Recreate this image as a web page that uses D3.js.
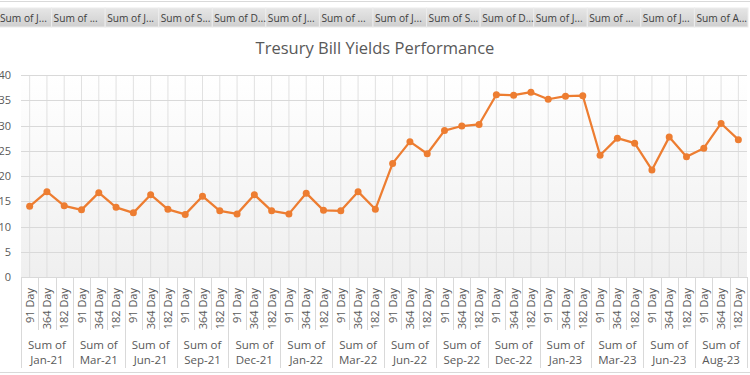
<!DOCTYPE html>
<html>
<head>
<meta charset="utf-8">
<script src="https://cdn.jsdelivr.net/npm/d3@7"></script>
<style>
  body { margin: 0; background: #fff; }
  svg { display: block; font-family: "Open Sans", "Liberation Sans", sans-serif; }
</style>
</head>
<body>
<svg id="chart" width="750" height="375"></svg>
<script>
// data
const groups = ["Jan-21", "Mar-21", "Jun-21", "Sep-21", "Dec-21", "Jan-22", "Mar-22",
                "Jun-22", "Sep-22", "Dec-22", "Jan-23", "Mar-23", "Jun-23", "Aug-23"];
const tenors = ["91 Day", "364 Day", "182 Day"];
const fieldButtons = ["Sum of J...", "Sum of ...", "Sum of J...", "Sum of S...", "Sum of D...",
                      "Sum of J...", "Sum of ...", "Sum of J...", "Sum of S...", "Sum of D...",
                      "Sum of J...", "Sum of ...", "Sum of J...", "Sum of A..."];
const yields = [
  14.0, 16.9, 14.1,   13.3, 16.7, 13.8,   12.7, 16.3, 13.4,   12.4, 16.0, 13.1,
  12.5, 16.3, 13.1,   12.5, 16.6, 13.2,   13.1, 16.9, 13.4,   22.5, 26.8, 24.4,
  29.0, 29.9, 30.2,   36.1, 36.0, 36.6,   35.2, 35.8, 35.9,   24.1, 27.5, 26.5,
  21.2, 27.7, 23.8,   25.5, 30.4, 27.2
];
const yTicks = [0, 5, 10, 15, 20, 25, 30, 35, 40];
const title = "Tresury Bill Yields Performance";

const svg = d3.select("#chart");
const W = 750, H = 375;
const grey = "#595959", gridCol = "#d9d9d9";

// categories: one per (group, tenor)
const cats = [];
groups.forEach((g, gi) => tenors.forEach((t, ti) => cats.push({ g, gi, t, i: gi * 3 + ti })));
cats.forEach((c, i) => c.value = yields[i]);

let x = d3.scaleBand().domain(d3.range(cats.length)).range([21, 747]).padding(0);
let y = d3.scaleLinear().domain([0, 40]).range([277, 75]);
let bw = x.bandwidth();
let cx = i => x(i) + bw / 2;

// chart border lines
svg.append("line").attr("x1", 0).attr("x2", W).attr("y1", 1.5).attr("y2", 1.5)
  .attr("stroke", gridCol).attr("stroke-width", 1);
svg.append("line").attr("x1", 0).attr("x2", W).attr("y1", 372.5).attr("y2", 372.5)
  .attr("stroke", gridCol).attr("stroke-width", 1);

//#region field buttons bar
let defs = svg.append("defs");
let bg = defs.append("linearGradient").attr("id", "btnGrad").attr("x1", 0).attr("x2", 0).attr("y1", 0).attr("y2", 1);
bg.append("stop").attr("offset", "0%").attr("stop-color", "#e6e6e6");
bg.append("stop").attr("offset", "100%").attr("stop-color", "#cfcfcf");
let pg = defs.append("linearGradient").attr("id", "plotGrad").attr("x1", 0).attr("x2", 0).attr("y1", 0).attr("y2", 1);
pg.append("stop").attr("offset", "0%").attr("stop-color", "#ffffff");
pg.append("stop").attr("offset", "100%").attr("stop-color", "#efefef");

let btnW = W / fieldButtons.length;
let gBtn = svg.append("g");
gBtn.selectAll("rect").data(fieldButtons).join("rect")
  .attr("x", (d, i) => i * btnW - 2)
  .attr("y", 8).attr("width", btnW).attr("height", 19)
  .attr("fill", "url(#btnGrad)")
  .attr("stroke", "#ececec").attr("stroke-width", 1);
gBtn.selectAll("text").data(fieldButtons).join("text")
  .attr("x", (d, i) => i * btnW)
  .attr("y", 21.5)
  .attr("font-size", 10.2)
  .attr("fill", "#404040")
  .text(d => d);
//#endregion

// title
svg.append("text").attr("x", 375).attr("y", 54).attr("text-anchor", "middle")
  .attr("font-size", 16.5).attr("fill", grey).text(title);

// plot background
svg.append("rect").attr("x", x.range()[0]).attr("y", y(40))
  .attr("width", x.range()[1] - x.range()[0]).attr("height", y(0) - y(40))
  .attr("fill", "url(#plotGrad)");

//#region grid
let gGrid = svg.append("g");
gGrid.selectAll(".h").data(yTicks).join("line").attr("class", "h")
  .attr("x1", x.range()[0]).attr("x2", x.range()[1])
  .attr("y1", d => Math.round(y(d)) + 0.5).attr("y2", d => Math.round(y(d)) + 0.5)
  .attr("stroke", gridCol).attr("stroke-width", 1);
gGrid.selectAll(".v").data(cats).join("line").attr("class", "v")
  .attr("x1", d => cx(d.i)).attr("x2", d => cx(d.i))
  .attr("y1", y(40)).attr("y2", y(0))
  .attr("stroke", gridCol).attr("stroke-width", 0.8);
//#endregion

// y axis labels
svg.append("g").selectAll("text").data(yTicks).join("text")
  .attr("x", 11).attr("y", d => y(d) + 4)
  .attr("text-anchor", "end").attr("font-size", 11).attr("fill", grey)
  .text(d => d);

//#region x axis: categories + groups
let gX = svg.append("g");
let bounds = d3.range(cats.length + 1);
gX.selectAll("line.b").data(bounds).join("line").attr("class", "b")
  .attr("x1", d => Math.round(x.range()[0] + d * bw) + 0.5)
  .attr("x2", d => Math.round(x.range()[0] + d * bw) + 0.5)
  .attr("y1", y(0))
  .attr("y2", d => d % 3 === 0 ? 368 : 330)
  .attr("stroke", gridCol).attr("stroke-width", 1);
gX.selectAll("text.cat").data(cats).join("text").attr("class", "cat")
  .attr("transform", d => `translate(${cx(d.i) + 4},288) rotate(-90)`)
  .attr("text-anchor", "end").attr("font-size", 11).attr("fill", grey)
  .text(d => d.t);
let gLab = gX.selectAll("g.grp").data(groups).join("g").attr("class", "grp")
  .attr("transform", (d, gi) => `translate(${(x(gi * 3) + x(gi * 3 + 2) + bw) / 2},0)`);
gLab.append("text").attr("y", 349).attr("text-anchor", "middle").attr("font-size", 11.5)
  .attr("fill", grey).text("Sum of");
gLab.append("text").attr("y", 364).attr("text-anchor", "middle").attr("font-size", 11.5)
  .attr("fill", grey).text(d => d);
//#endregion
svg.append("line").attr("x1", x.range()[0]).attr("x2", x.range()[1])
  .attr("y1", Math.round(y(0)) + 0.5).attr("y2", Math.round(y(0)) + 0.5)
  .attr("stroke", gridCol);

// line + markers
const orange = "#ED7D31";
svg.append("path").datum(cats)
  .attr("fill", "none").attr("stroke", orange).attr("stroke-width", 2.25)
  .attr("stroke-linejoin", "round")
  .attr("d", d3.line().x(d => cx(d.i)).y(d => y(d.value)));
svg.append("g").selectAll("circle").data(cats).join("circle")
  .attr("cx", d => cx(d.i)).attr("cy", d => y(d.value)).attr("r", 3.5)
  .attr("fill", orange);
</script>
</body>
</html>
